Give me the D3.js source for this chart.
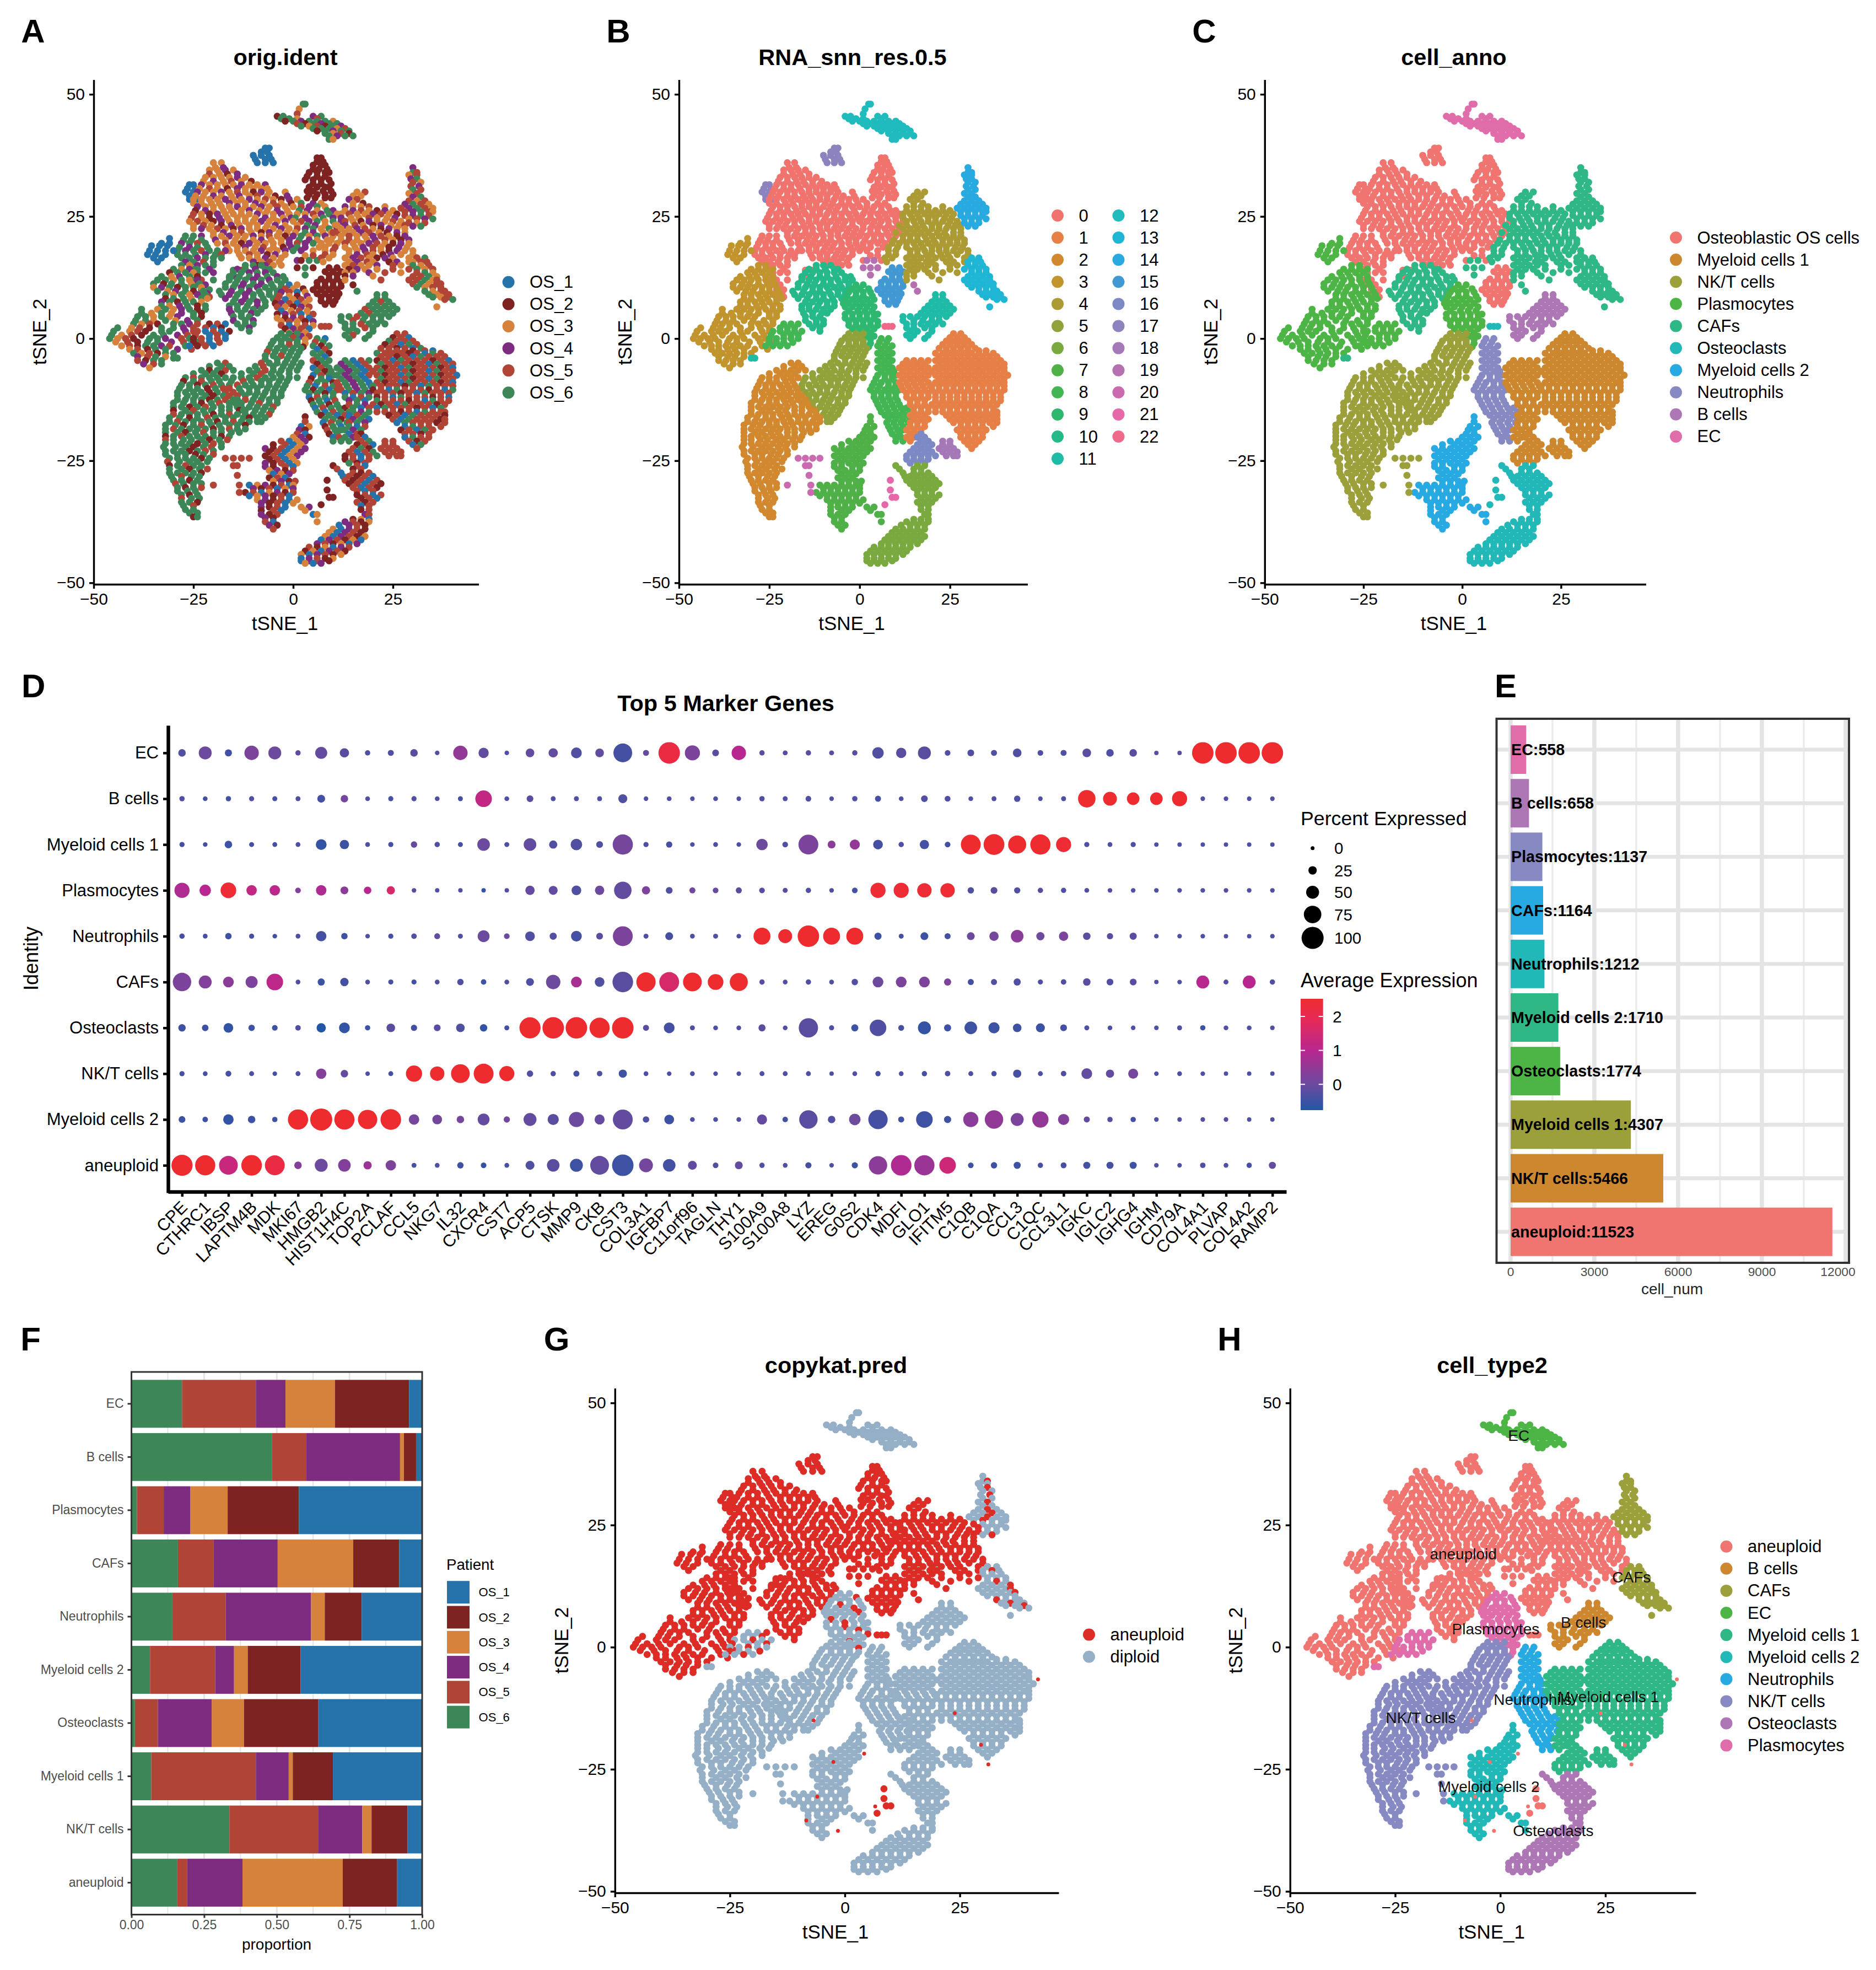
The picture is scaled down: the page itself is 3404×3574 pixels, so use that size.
<!DOCTYPE html>
<html>
<head>
<meta charset="utf-8">
<script src="https://cdn.jsdelivr.net/npm/d3@7"></script>
<style>
body { margin: 0; background: #fff; }
text { font-family: "Liberation Sans", Arial, sans-serif; }
</style>
</head>
<body>
<script>
var ecCells = [[48,2.5,3],[47,1.5],[46,1],[45.5,-4,-2.5,5,7],[45,-3,-1,1,6],[44.5,-2,0,2,4,6,8,10],[44,1,3,5,7,9,11],[43.5,2,4,6,8,10,12],[43,5,7,9,11,13],[42.5,6,8,10,12,14],[42,8,10,12,14],[41.5,9,11,13,15],[40.8,9,10]];
var blobTop = [[39,-7,-6],[38.2,-8,-6.5],[37.5,-10,-8,-6],[36.7,-9.5,-7,-5.5],[36,-9,-7,-5]];
var blobLeft = [[31.5,-26,-25],[30.7,-26.5,-24.5],[30,-27,-25],[29.2,-26,-24.5],[28.5,-26,-24]];
var mainLeft = [[36,-20,-18],[35,-19.5,-17.5],[34.5,-21,-19,-17,-15],[33.7,-21,-18.5,-16.5,-14],[33,-22,-20,-18,-16,-14,-12],[32.2,-22.5,-20,-17.5,-15.5,-13,-10.5],[31.5,-23,-21,-19,-17,-15,-13,-11,-9,-7],[30.7,-23.5,-21,-19,-16.5,-14,-12,-10,-8,-6.5],[30,-24,-22,-20,-18,-16,-14,-12,-10,-8,-6,-2],[29.2,-24.5,-22.5,-20,-18,-15.5,-13.5,-11,-9,-6.5,-4.5,-1.5],
  [28.5,-25,-23,-21,-19,-17,-15,-13,-11,-9,-7,-5,-3,-1],[27.7,-25,-23,-20.5,-18.5,-16,-14,-12,-9.5,-7.5,-5,-3,-.5],[27,-24,-22,-20,-18,-16,-14,-12,-10,-8,-6,-4,-2],[26.2,-24.5,-22,-20,-17.5,-15.5,-13,-11,-8.5,-6.5,-4,-1.5],[25.5,-25,-23,-21,-19,-17,-15,-13,-11,-9,-7,-5,-3,-1],[24.7,-25.5,-23,-21,-18.5,-16.5,-14,-12,-9.5,-7,-5,-2.5,-.5],
  [24,-26,-24,-22,-20,-18,-16,-14,-12,-10,-8,-6,-4,-2],[23.2,-25,-22.5,-20.5,-18,-15.5,-13.5,-11,-9,-6.5,-4.5,-2],[22.5,-25,-23,-21,-19,-17,-15,-13,-11,-9,-7,-5,-3,-1],[21.7,-20,-17.5,-15,-13,-10.5,-8,-6,-3.5,-1.5],[21,-20,-18,-16,-14,-12,-10,-8,-6,-4,-2],[20.2,-19.5,-17,-14.5,-12.5,-10,-8,-5.5,-3,-1],
  [19.5,-19,-17,-15,-13,-11,-9,-7,-5,-3,-1],[18.7,-16.5,-14,-12,-9.5,-7.5,-5,-2.5,-.5],[18,-16,-14,-12,-10,-8,-6,-4,-2],[17.2,-13.5,-11,-9,-6.5,-4.5,-2],[16.5,-13,-11,-9,-7,-5,-3],[15.7,-10,-8,-6,-3.5],[15,-9,-7,-5,-3]];
var mainRight = [[28.5,1],[27.7,2,5,7],[27,0,2,4,6,8],[26.2,1.5,3.5,6,8.5,10],[25.5,1,3,5,7,9,11],[24.7,.5,3,5.5,7.5,10,12],[24,0,2,4,6,8,10,12],[23.2,1,3.5,5.5,8,10.5],[22.5,1,3,5,7,9,11],[21.7,.5,3,5,7.5,9.5,11],[21,0,2,4,6,8,10],[20.2,1.5,4,6,8.5],[19.5,1,3,5,7],[18.7,1,3,6.5],[18,0,2,5],[17,3,5],[16,1,6]];
var lobe = [[37,6,7],[36.2,6,7.5],[35.5,5,7,8],[34.7,5,6.5,8.5],[34,4,6,8,9],[33.2,3.5,6,8],[32.5,3,5,7,9],[31.7,5,7,9.5],[31,4,6,8,9],[30.2,3.5,5,7.5,9.5],[29.5,4,6,8,10],[28.8,3.5,5.5,8,9.5]];
var lowLeft = [[21,-27,-25,-23],[20.2,-27.5,-25.5,-23],[19.5,-28,-26,-24,-22],[18.7,-28.5,-26,-24,-21.5],[18,-29,-27,-25,-23,-21,-19,-17],[17.2,-29,-27,-24.5,-22,-19.5,-18],[16.5,-28,-26,-24,-22,-20,-18],[15.7,-27,-25,-22.5,-20],[15,-26,-24,-22,-20],[14.2,-25,-21],[14,-15,-13],[13.5,-24,-22,-20],[12.8,-24,-15],[12.5,-16,-14],[12,-25,-23,-20],[11,-24.5,-22],[10,-23,-21],[9.2,-23,-21.5],[8.5,-22,-21]];
var gold3Top = [[20.5,-31],[19.5,-33,-31],[19,-35.5,-33.5,-31.5],[18,-36,-34,-32,-30],[17.2,-36.5,-34.5,-32],[16.5,-35,-33],[15.7,-34]];
var gold3Main = [[15,-28,-26],[14.2,-30,-28,-26,-24],[13.5,-31,-29,-27,-25],[12.7,-33,-30.5,-28.5,-26,-24],[12,-34,-32,-30,-28,-26,-24],[11.2,-35,-32.5,-30.5,-28,-25.5,-23.5],[10.5,-35,-33,-31,-29,-27,-25,-23],[9.7,-34,-31.5,-29.5,-27,-25,-22.5],[9,-32,-30,-28,-26,-24,-22],[8.2,-32,-30,-27.5,-25.5,-23,-21.5],[7.5,-33,-31,-29,-27,-25,-23],[6.7,-33,-31,-28.5,-26.5,-24,-22],[6,-38,-34,-32,-30,-28,-26,-24,-22],[5.2,-38,-35.5,-33,-30.5,-28,-25,-23],[4.5,-39,-37,-35,-33,-31,-29,-25,-23],[3.7,-39.5,-37,-35,-32,-29.5,-26.5,-24]];
var gold3Low = [[3,-40,-38,-36,-34,-30,-28,-26,-24],[2.2,-44,-40.5,-38.5,-36,-33,-30,-27.5,-25],[1.5,-45,-41,-39,-37,-33,-31,-27,-25],[.7,-45.5,-43,-40.5,-38,-35,-32.5,-29,-26.5],[0,-46,-44,-42,-40,-36,-34,-32,-28,-26],[-.7,-44.5,-41.5,-39,-36.5,-34,-30.5,-27.5,-24],[-1.5,-43,-41,-39,-37,-35,-33,-31,-27],[-2.2,-41,-39,-36.5,-34.5,-32,-29,-25.5],[-3,-40,-38,-36,-34,-32,-30],[-3.7,-39,-36.5,-34.5,-32],[-4.5,-39,-37,-35,-33],[-5.2,-37.5,-35,-33],[-6,-36]];
var res10 = [[15,-12,-10,-8],[14.2,-14,-12,-9.5,-7,-6],[13.5,-15,-13,-11,-9,-7,-5],[12.7,-16,-13.5,-11,-9,-6.5,-4,-2.5],[12,-16,-14,-12,-10,-8,-6,-4,-2],[11.2,-17,-14.5,-12.5,-10,-8,-5.5,-3],[10.5,-17,-15,-13,-11,-9,-7,-5,-3],[9.7,-18.5,-15.5,-13,-11,-8.5,-6,-4],[9,-18,-16,-14,-12,-10,-8,-6,-4],[8.2,-17,-14.5,-12,-10,-7.5,-5],[7.5,-15,-13,-11,-9,-7],[6.7,-16,-14,-11.5,-9,-7],[6,-16,-14,-12,-10,-8],[5.2,-15.5,-13,-10.5,-9],[4.5,-15,-13,-11],[3.7,-15,-12,-10],[3,-14,-12,-10],[2.2,-13,-11],[1.5,-11]];
var res9 = [[11,-1,1],[10.2,-2,0,2.5],[9.5,-3,-1,1,3],[8.7,-3.5,-1,1,3.5],[8,-4,-2,0,2,4],[7.2,-4.5,-3,-1,1,3],[6.5,-4,-2,0,2,4],[5.7,-3,-.5,1.5,3.5],[5,-4,-2,0,2,4,5],[4.2,-4,-2,0,2,4],[3.5,-3,-1,1,3,5],[2.7,-3,-1,1,3,5],[2,-2,0,2,4],[1.2,-1,1,3],[.5,0,2,4],[-.2,1,3],[-1,1,3],[-1.7,2.5]];
var res8Low = [[3,-21,-19,-17],[2.2,-22,-20,-18],[1.5,-24,-22,-20,-18,-16],[.7,-24.5,-21,-19,-17],[0,-25,-23,-21,-19,-17],[-.8,-25,-23,-21,-18.5],[-1.5,-26,-24,-22,-20]];
var res11 = [[9,21,23],[8.2,21,23],[7.5,20,22,24],[6.7,19,21,23,25],[6,18,20,22,24,26],[5.2,17,19,21,23,25],[4.5,12,14,16,18,20,22,24],[3.7,12,15,17.5,20,22],[3,13,15,17,19,21,23],[2.2,13,15,18,20],[1.5,14,16,20],[.7,13,15,19],[0,14,18]];
var res15 = [[14.5,9,11],[13.7,8,10,12],[13,9,11],[12.2,7,9,11],[11.5,6,8,10,12],[10.7,6,8,10,12],[10,5,7,9,11],[9.2,6,8,10,11.5],[8.5,7,9,11],[7.7,7,9,10.5],[7,8,10]];
var res19 = [[16,2,4],[14.5,1,3,5],[13,3],[11,15],[9.7,16]];
var res4 = [[30,16,18],[29.2,15,17],[28.5,14,16],[27.7,15,17.5],[27,13,15,17,19,23],[26.2,13,15,17,19,21,23,25],[25.5,12,14,16,18,20,22,24,26],[24.7,12,14.5,16.5,19,21,23.5,25.5],[24,13,15,17,19,21,23,25,27],[23.2,11,13,15.5,17.5,20,22,24.5,26.5,28],[22.5,12,14,16,18,20,22,24,26,28],[21.7,10,13,15,17,19,21.5,23.5,26,28],[21,12,14,16,18,20,22,24,26,28],[20.2,9.5,12,14,16,18.5,20.5,23,25,27,29],[19.5,9,11,13,15,17,19,21,23,25,27,29],[18.7,8,10.5,13,15.5,17.5,20,22,24,26.5,28.5],[18,8,10,14,16,18,20,22,24,26,28,30],[17.2,8,10,14,16,18.5,20,22.5,24.5,27,30],[16.5,7,9,13,15,17,19,21,23,25,29,31],[15.7,7.5,14,16,18.5,20,24,26,29],[15,13,15,17,19,21,25,27],[14.2,14,16,18,21,25],[13.5,13,15,19,23,27],[12.8,13,15,20],[12,13,22]];
var res14 = [[35,30],[34,30,31],[33.5,29,31],[32.7,29.5,31],[32,30,32],[31.2,29.5,31.5],[30.5,30,32],[29.7,29,31],[29,30,32],[28.2,29,31,33],[27.5,28,30,32,34],[26.7,27,29,31,33,35],[26,28,30,32,34,35],[25.2,28,30,32,34],[24.5,29,31,33,35],[23.7,29,31,33],[23,30,32]];
var res13 = [[16.5,31,33],[15.7,30,32,33.5],[15,30,32,34],[14.2,29,31,33,35],[13.5,31,33,35],[12.7,30,32,34,36],[12,29,31,33,35,36],[11.2,30,32,34,36,37],[10.5,31,33,35,37],[9.7,33,35,37,38],[9,34,36,38,39],[8.5,35,37,39],[8,38,40],[6.5,36]];
var res5 = [[1,-3,-1,1],[.2,-4,-2,0],[-.5,-5,-3,-1,1],[-1.2,-5.5,-3,-1,1],[-2,-6,-4,-2,0,2],[-2.7,-6.5,-4.5,-2.5,-.5,1.5],[-3.5,-7,-5,-3,-1,1],[-4.2,-7,-4,-1.5,.5],[-5,-8,-6,-4,-2,0,2],[-5.7,-9.5,-7.5,-5,-2.5,-.5,1.5],[-6.5,-11,-9,-7,-5,-3,-1,1],[-7.2,-13,-10,-8,-5.5,-3.5,-1],[-8,-15,-13,-11,-9,-7,-5,-3,-1,1],[-8.7,-15.5,-12.5,-10.5,-8,-6,-3.5,-1.5],[-9.5,-16,-14,-12,-10,-8,-6,-4,-2],[-10.2,-16,-13.5,-11,-9,-6.5,-4.5,-2.5],[-11,-15,-13,-11,-9,-7,-5,-3],[-11.7,-14,-12,-9.5,-7.5,-5,-3],[-12.5,-14,-12,-10,-8,-6,-4],[-13.2,-13,-10.5,-8.5,-6,-4],[-14,-13,-11,-9,-7,-5],[-14.7,-12,-9.5,-7.5,-5.5],[-15.5,-10,-8,-6],[-16.2,-9,-7],[-17,-9,-8]];
var res2 = [[-5,-19,-17],[-5.7,-21,-18,-16],[-6.5,-23,-21,-19,-17,-15],[-7.2,-25,-22,-20,-18],[-8,-27,-25,-23,-21,-19,-17],[-8.7,-27.5,-25,-23,-20.5,-18.5],[-9.5,-28,-26,-24,-22,-20,-18],[-10.2,-28.5,-26,-24,-21.5,-19.5,-17.5],[-11,-29,-27,-25,-23,-21,-19,-17],[-11.7,-29,-26.5,-24.5,-22,-20,-17.5,-16],[-12.5,-29,-27,-25,-23,-21,-19,-17,-15],[-13.2,-30,-27.5,-25,-23,-20.5,-18.5,-16,-14.5],[-14,-30,-28,-26,-24,-22,-20,-18,-16,-14],[-14.7,-30,-27,-25,-22.5,-20.5,-18,-16,-13.5,-12.5],[-15.5,-30,-28,-26,-24,-22,-20,-18,-16,-14,-12],[-16.2,-31,-28.5,-26,-24,-21.5,-19.5,-17,-15,-12.5,-11],[-17,-31,-29,-27,-25,-23,-21,-19,-17,-15,-13,-11],[-17.7,-32,-29.5,-27.5,-25,-23,-20.5,-18.5,-16,-14,-12],[-18.5,-32,-30,-28,-26,-24,-22,-20,-18,-16,-14,-12],[-19.2,-32,-29,-27,-24.5,-22.5,-20,-18,-15.5,-13.5],[-20,-32,-30,-28,-26,-24,-22,-20,-18,-16],[-20.7,-32,-30,-27.5,-25.5,-23,-21,-18.5,-16.5],[-21.5,-32,-30,-28,-26,-24,-22,-20,-18],[-22.2,-32.5,-29.5,-27,-25,-22.5,-20.5,-18],[-23,-32,-30,-28,-26,-24,-22,-20],[-23.7,-32,-29,-27,-24.5,-22.5,-20],[-24.5,-31,-29,-27,-25,-23,-21],[-25.2,-31.5,-28.5,-26,-24,-21.5],[-26,-31,-29,-27,-25,-23],[-26.7,-31,-28,-26,-23.5,-21.5],[-27.5,-31,-29,-27,-25,-23],[-28.2,-30.5,-28,-25.5,-23.5],[-29,-30,-28,-26,-24],[-29.7,-29.5,-27.5,-25,-23],[-30.5,-29,-27,-25,-23],[-31.2,-29,-26.5,-24.5],[-32,-28,-26,-24],[-32.7,-28,-25.5,-23.5],[-33.5,-28,-26,-24],[-34.2,-27.5,-25],[-35,-27,-25],[-35.7,-26,-24],[-36.5,-25,-24]];
var res8Vert = [[0,6,8],[-.7,5.5,7.5],[-1.5,5,7,9],[-2.2,6,8],[-3,5,7,9],[-3.7,6,8],[-4.5,5,7,9],[-5.2,6,8],[-6,5,7,9],[-6.7,6,8,9.5],[-7.5,5,7,9,10],[-8.2,4.5,7,9],[-9,4,6,8,10],[-9.7,3.5,5.5,8,10],[-10.5,3,5,7,9,11],[-11.2,4,6,8,10],[-12,4,6,8,10],[-12.7,4.5,6.5,8.5,10.5],[-13.5,5,7,9,11],[-14.2,5.5,7.5,9.5,11.5,13],[-15,6,8,10,12,14],[-15.7,7,9,11,13],[-16.5,8,10,12,14],[-17.2,7.5,9.5,11.5,13.5],[-18,8,10,12],[-18.7,8.5,10.5,12],[-19.5,9,11],[-20.2,10,11.5],[-21,10,12]];
var res1Left = [[-4.5,13,15,17,19],[-5.2,12,14,16,18],[-6,11,13,15,17,19],[-6.7,12,14,16,18,20],[-7.5,11,13,15,17,19],[-8.2,12,14,16,18],[-9,11,13,15,17,19],[-9.7,11.5,13.5,15.5,17.5,19.5],[-10.5,12,14,16,18],[-11.2,13,15,17,19],[-12,13,15,17,19],[-12.7,14,16,18],[-13.5,14,16,18],[-14.2,15,17,19],[-15,15,17,19],[-15.7,14,16,18],[-16.5,15,17,19],[-17.2,14,16,18],[-18,14,16,18],[-18.7,13,15,17],[-19.5,14,16],[-20.2,13,15],[-21,14]];
var res1Right = [[1,26,28],[.2,25,27,29],[-.5,24,26,28,30],[-1.2,23,25,27,29,31],[-2,22,24,26,28,30,32],[-2.5,24,26,28,30,33,35],[-3,21,23,25,27,29,31,33,35,37],[-3.7,22,24,26,28,30,32,34,36,38],[-4.5,21,23,25,27,29,31,33,35,37,39],[-5.2,22,24,26,28,30,32,34,36,38,40],[-6,21,23,25,27,29,31,33,35,37,39,40],[-6.7,22,24,26,28,30,32,34,36,38,40],[-7.5,21,23,25,27,29,31,33,35,37,39,41],[-8.2,22,24,26,28,30,32,34,36,38,40],[-9,21,23,25,27,29,31,33,35,37,39,40],[-9.7,20,22,24,26,28,30,32,34,36,38,40],[-10.5,20,22,24,26,28,30,32,34,36,38,40],[-11.2,21,23,25,27,29,31,33,35,37,39],[-12,21,23,25,27,29,31,33,35,37,39],[-12.7,21,23,25,27,29,31,33,35,37,39],[-13.5,20,22,24,26,28,30,32,34,36,38],[-14.2,21,23,25,27,29,31,33,35,37],[-15,21,23,25,27,29,31,33,35,37,38],[-15.7,24,26,28,30,32,34,36,38],[-16.5,25,27,29,31,33,35,37,38],[-17.2,26,28,30,32,34,36,38],[-18,28,30,32,34,37],[-18.7,27,29,31,33,35],[-19.5,28,30,32,34],[-20.2,28,30,32,34],[-21,29,31,33],[-21.7,30,32],[-22.5,31]];
var res16 = [[-19.5,17],[-20.2,16,18],[-21,17,19],[-21.7,16,18,20],[-22.5,15,17,19],[-23.2,14,16,18,20],[-24,13,15,17,19,21],[-24.7,13,15,17,19],[-25.5,14,16,18]];
var res18 = [[-21,23,25],[-21.7,23,25],[-22.5,22,24,26],[-23.2,23,25,27],[-24,24,26,27]];
var res7 = [[-16,3],[-17,3],[-18,2,4],[-18.7,1.5,3],[-19.5,1,3],[-20.2,0,2,4],[-21,-3,-1,1,3],[-21.7,-5,-2,0,2],[-22.5,-7,-5,-3,-1,1,3],[-23.2,-6,-4,-2,0,2],[-24,-7,-5,-3,-1,1],[-24.7,-6,-4,-2,0],[-25.5,-7,-5,-3,-1,1],[-26.2,-7,-5,-2,0],[-27,-6,-4,-2,0],[-27.7,-5,-3,-1],[-28.5,-6,-4,-2],[-29.2,-5,-3,-1,.5],[-30,-11,-9,-7,-5,-3,-1,0],[-30.7,-10,-8,-6,-4,-2,0],[-31.5,-12,-10,-8,-6,-4,-2,0],[-32.2,-11,-9,-7,-5,-3,-1],[-33,-9,-7,-5,-3,-1,1],[-33.7,-8,-6,-4,-2,0],[-34.5,-8,-6,-4,-2,2,4],[-35.2,-8,-5,-3,3],[-36,-8,-6,-4,5,6],[-36.7,-7,-5],[-37.5,-7,-5,6],[-38.2,-6,-4],[-39,-5]];
var res20 = [[-24.5,-17,-15,-13,-11],[-26,-15,-14],[-28,-14],[-30,-20,-13.5],[-31.5,-13.5]];
var res21 = [[-29,8.5],[-31,8.5],[-32.5,9,10],[-34,7]];
var res6Up = [[-26,10,16,18],[-26.7,11,15,17],[-27.5,12,15,17,19],[-28.2,12.5,14,16,18,20],[-29,13,15,17,19,21],[-29.7,14,16,18,20,22],[-30.5,15,17,19,21],[-31.2,16,18,20],[-32,16,18,20,22],[-32.7,17,19,21],[-33.5,16,18,20],[-34.2,17,19],[-35,17,19]];
var res6Low = [[-36,18,19],[-37,15,17,19],[-37.5,13,15,17,19],[-38.2,11.5,14,16,18],[-39,10,12,14,16,18],[-39.7,9,11,13,15,17],[-40.5,8,10,12,14,16,18],[-41.2,7,9,11,13,15,17],[-42,6,8,10,12,14,16],[-42.7,4,6,8,10,12,14],[-43.5,3,5,7,9,11,13],[-44.2,2,4,6,8,10,12],[-45,2,4,6,8,10],[-45.5,2,4,6,9],[-46,3,5,7]];
var res22 = [[2.5,7,8,9]];
var res11b = [[-4,-30,-29]];

var regionCells = [ecCells,blobTop,blobLeft,mainLeft,mainRight,lobe,lowLeft,gold3Top,gold3Main,gold3Low,res10,res9,res8Low,res11,res15,res19,res4,res14,res13,res5,res2,res8Vert,res1Left,res1Right,res16,res18,res7,res20,res21,res6Up,res6Low,res22,res11b];
var regionRes = [12,17,17,0,0,0,0,3,3,3,10,9,8,11,15,19,4,14,13,5,2,8,1,1,16,18,7,20,21,6,6,22,11];
var regionAnno = ["EC","Osteoblastic OS cells","Osteoblastic OS cells","Osteoblastic OS cells","Osteoblastic OS cells","Osteoblastic OS cells","Osteoblastic OS cells","Plasmocytes","Plasmocytes","Plasmocytes","CAFs","Plasmocytes","Plasmocytes","B cells","Osteoblastic OS cells","CAFs","CAFs","CAFs","CAFs","NK/T cells","NK/T cells","Neutrophils","Myeloid cells 1","Myeloid cells 1","Myeloid cells 1","Myeloid cells 1","Myeloid cells 2","NK/T cells","Osteoclasts","Osteoclasts","Osteoclasts","Osteoclasts","CAFs"];
var regionType = ["EC","aneuploid","aneuploid","aneuploid","aneuploid","aneuploid","aneuploid","aneuploid","aneuploid","aneuploid","aneuploid","Plasmocytes","Plasmocytes","B cells","aneuploid","aneuploid","aneuploid","CAFs","CAFs","NK/T cells","NK/T cells","Neutrophils","Myeloid cells 1","Myeloid cells 1","Myeloid cells 1","Myeloid cells 1","Myeloid cells 2","NK/T cells","aneuploid","Osteoclasts","Osteoclasts","aneuploid","Plasmocytes"];
var regionCnv = ["d","a","a","a","a","a","a","a","a","a","a","ddddad","dda","d","a","a","a","ddad","dddad","d","d","d","d","d","d","d","d","d","a","d","d","a","d"];
var regionPatient = ["66352646","1","1","3334334353243","36433546364","2","664666465","1","63634626","63526645","6664646","1353245","25151","666665","2","26","3533453243","46535","5635","6666656","6566662","615662","61564","5525165","25156","5","25134","5","2","2515","45231","5","6"];
// lone red cells in the copykat panel: [x, y]
var strayX = [42,23.9,29.6,31.2,-6.8,4.2,-2.5,-6,-8.4,-1.5,6.6];
var strayY = [-6.6,-13.5,-20,-24,-15,-21.8,-23.5,-30.6,-35.5,-37.6,-32.6];

var osNames = ["OS_1","OS_2","OS_3","OS_4","OS_5","OS_6"];
var osColors = ["#2673AB","#7E2222","#D6823D","#7D2C80","#B04436","#3D8658"];
var resColors = ["#F0736E","#E68047","#D2882E","#C1942E","#AC9B34","#92A23A","#79A93F","#4FB047","#43B653","#2EB86F","#25B989","#1FBBA6","#20BBBD","#1FB6D6","#28AAE1","#4298D2","#7C89C4","#8D83BF","#A578B7","#B570B0","#C96BAE","#E668A9","#EF6A8A"];
var hue10 = ["#F07570","#CC872F","#9CA03A","#4DB545","#2FB885","#22B8B8","#27A9E1","#8789C3","#AD76B4","#E16CAA"];
var annoNames = ["Osteoblastic OS cells","Myeloid cells 1","NK/T cells","Plasmocytes","CAFs","Osteoclasts","Myeloid cells 2","Neutrophils","B cells","EC"];
var typeNames = ["aneuploid","B cells","CAFs","EC","Myeloid cells 1","Myeloid cells 2","Neutrophils","NK/T cells","Osteoclasts","Plasmocytes"];
var typeLabelNames = ["aneuploid","Myeloid cells 1","Neutrophils","NK/T cells","Myeloid cells 2","Osteoclasts","Plasmocytes","B cells","CAFs","EC"];
var typeLabelX = [-8.8,25.7,7.7,-18.9,-2.7,12.6,-1.1,19.8,31.2,4.4];
var typeLabelY = [19.1,-10.2,-10.7,-14.5,-28.6,-37.6,3.7,5.1,14.3,43.3];

// dot plot
var genes = ["CPE","CTHRC1","IBSP","LAPTM4B","MDK","MKI67","HMGB2","HIST1H4C","TOP2A","PCLAF","CCL5","NKG7","IL32","CXCR4","CST7","ACP5","CTSK","MMP9","CKB","CST3","COL3A1","IGFBP7","C11orf96","TAGLN","THY1","S100A9","S100A8","LYZ","EREG","G0S2","CDK4","MDFI","GLO1","IFITM5","C1QB","C1QA","CCL3","C1QC","CCL3L1","IGKC","IGLC2","IGHG4","IGHM","CD79A","COL4A1","PLVAP","COL4A2","RAMP2"];
var identities = ["EC","B cells","Myeloid cells 1","Plasmocytes","Neutrophils","CAFs","Osteoclasts","NK/T cells","Myeloid cells 2","aneuploid"];
var pctEC = [20,50,18,58,50,8,45,30,8,12,20,4,58,35,4,26,30,38,26,82,12,97,62,16,58,8,6,8,6,8,42,35,50,10,16,12,26,10,12,26,20,20,3,3,97,97,97,97];
var pctB = [8,5,8,7,6,6,22,20,5,7,7,5,6,70,5,16,6,6,6,28,4,5,4,5,4,8,6,10,4,8,12,5,16,11,5,6,14,4,6,75,55,48,48,62,4,4,4,4];
var pctM1 = [7,4,20,6,5,5,38,30,5,7,14,8,6,48,6,48,24,42,16,90,7,13,4,5,4,42,10,88,22,34,32,8,30,10,88,93,78,90,62,7,5,7,3,3,3,3,3,3];
var pctPl = [62,42,65,36,36,10,36,22,20,24,4,3,3,3,3,30,28,32,30,75,24,16,12,10,12,10,6,8,4,10,62,62,58,58,14,16,13,8,8,5,4,4,4,4,4,4,4,4];
var pctNe = [8,5,14,7,4,5,36,14,4,7,9,11,6,44,10,32,18,38,16,88,6,22,5,6,4,72,55,97,72,72,18,6,22,12,22,30,48,24,30,20,13,18,4,4,4,3,3,4];
var pctCA = [80,50,38,45,70,5,18,25,5,7,7,5,14,9,5,22,58,38,32,92,85,88,82,65,78,8,5,8,5,14,38,38,38,18,12,12,18,7,9,20,16,16,3,4,50,6,50,8];
var pctOc = [20,15,32,14,10,9,30,38,8,26,13,16,26,20,6,95,97,97,90,97,12,38,6,5,5,18,5,85,7,18,70,11,50,18,48,40,26,28,16,6,5,4,4,6,8,5,5,4];
var pctNK = [7,5,11,6,4,6,36,20,4,6,68,58,82,88,62,14,8,12,9,24,5,4,5,4,4,6,6,6,3,5,8,5,8,9,6,8,24,6,9,38,24,34,4,5,4,3,3,3];
var pctM2 = [16,9,36,20,8,90,100,90,85,92,36,32,20,44,13,50,40,62,34,88,14,32,5,5,5,34,9,80,20,42,85,12,70,18,62,80,50,68,40,12,8,8,4,4,4,4,3,3];
var pctAn = [95,90,82,92,88,20,50,48,24,36,6,5,14,10,5,28,48,50,82,97,55,48,28,10,22,8,5,13,4,13,80,92,90,70,10,14,18,8,11,18,18,18,4,4,9,5,8,18];
var avgEC = [-.3,0,-.4,.2,0,-.1,-.1,-.2,-.3,-.3,-.2,-.3,.5,-.1,-.3,-.1,-.1,-.3,-.1,-.4,-.1,2.2,.2,-.2,1,-.2,-.2,-.2,-.2,-.2,-.3,-.2,-.2,-.3,-.3,-.3,-.3,-.3,-.3,-.2,-.3,-.2,-.2,-.2,2.5,2.5,2.5,2.5];
var avgB = [-.3,-.4,-.4,-.3,-.4,-.3,-.4,.1,-.3,-.4,-.3,-.3,-.4,1.2,-.3,-.2,-.3,-.3,-.3,-.3,-.3,-.3,-.3,-.3,-.3,-.3,-.3,-.3,-.3,-.3,-.4,-.3,-.3,-.3,-.3,-.3,-.3,-.3,-.3,2.5,2.5,2.5,2.5,2.5,-.3,-.3,-.3,-.3];
var avgM1 = [-.4,-.4,-.5,-.4,-.4,-.3,-.6,-.5,-.3,-.4,-.1,-.3,-.4,0,-.3,-.1,-.3,-.3,-.3,.1,-.3,-.4,-.3,-.3,-.3,0,-.3,.2,.4,.5,-.4,-.3,-.4,-.4,2.5,2.5,2.5,2.5,2.4,-.3,-.3,-.3,-.3,-.3,-.3,-.3,-.3,-.3];
var avgPl = [.9,1,2.4,1.2,1.1,.3,.9,.4,1,1.6,-.3,-.3,-.3,-.6,-.3,-.1,-.1,-.3,0,-.1,.2,-.3,.1,-.1,-.2,-.2,-.3,-.3,-.3,-.4,2.4,2.4,2.4,2.4,-.3,-.2,-.3,-.3,-.3,-.3,-.3,-.3,-.3,-.3,-.3,-.3,-.3,-.3];
var avgNe = [-.4,-.4,-.5,-.4,-.5,-.3,-.4,-.5,-.3,-.4,-.3,-.1,-.3,0,0,-.3,-.3,-.4,-.2,.2,-.3,-.4,-.3,-.3,-.3,2.5,2.5,2.5,2.5,2.5,-.5,-.4,-.5,-.4,0,.1,.4,0,.2,-.2,-.2,-.2,-.3,-.3,-.3,-.3,-.3,-.3];
var avgCA = [.2,.3,.4,.2,1.1,-.3,-.5,-.4,-.3,-.4,-.4,-.3,-.3,-.5,-.3,-.3,0,.8,-.3,-.2,2.5,1.6,2.5,2.5,2.5,-.2,-.3,-.3,-.3,-.3,0,.2,.2,.2,-.4,-.3,-.3,-.3,-.3,-.2,-.3,-.2,-.3,-.3,1,-.3,1,-.3];
var avgOc = [-.5,-.5,-.6,-.5,-.5,-.3,-.8,-.6,-.5,-.2,-.4,-.2,-.3,-.6,-.4,2.5,2.5,2.5,2.5,2.5,-.2,-.4,-.3,-.3,-.3,-.2,-.3,-.2,-.3,-.5,-.3,-.4,-.6,-.5,-.5,-.5,-.5,-.5,-.4,-.3,-.3,-.3,-.3,-.3,-.5,-.3,-.3,-.3];
var avgNK = [-.4,-.4,-.4,-.3,-.4,-.3,.3,-.1,-.3,-.4,2.5,2.5,2.5,2.5,2.5,-.3,-.3,-.4,-.3,-.5,-.3,-.3,-.3,-.3,-.3,-.3,-.3,-.3,-.3,-.3,-.4,-.3,-.4,-.3,-.3,-.4,-.4,-.3,-.3,-.1,-.1,.1,-.3,-.3,-.3,-.3,-.3,-.3];
var avgM2 = [-.5,-.5,-.6,-.5,-.5,2.5,2.5,2.5,2.5,2.5,.1,.1,.1,-.1,.1,-.1,-.2,0,-.1,-.1,-.3,-.5,-.3,-.3,-.3,-.1,-.4,-.2,-.3,0,-.4,-.5,-.5,-.5,.4,.5,.2,.5,.3,-.1,-.3,-.4,-.3,-.3,-.3,-.3,-.3,-.3];
var avgAn = [2.5,2.5,1.3,2.5,2.2,.3,0,.3,.6,.2,-.4,-.3,-.5,-.6,-.4,-.3,-.2,-.5,-.1,-.5,.1,-.4,-.1,-.3,-.1,-.3,-.3,-.4,-.3,-.5,.4,.9,.6,1.4,-.5,-.5,-.5,-.4,-.4,-.4,-.4,-.5,-.3,-.3,-.3,-.3,-.4,-.1];
var pctRows = [pctEC,pctB,pctM1,pctPl,pctNe,pctCA,pctOc,pctNK,pctM2,pctAn];
var avgRows = [avgEC,avgB,avgM1,avgPl,avgNe,avgCA,avgOc,avgNK,avgM2,avgAn];
var pctLegend = [0,25,50,75,100];
var avgLegend = [2,1,0];

// bar chart E
var barNames = ["EC","B cells","Plasmocytes","CAFs","Neutrophils","Myeloid cells 2","Osteoclasts","Myeloid cells 1","NK/T cells","aneuploid"];
var barValues = [558,658,1137,1164,1212,1710,1774,4307,5466,11523];
var barColors = ["#E16CAA","#AD76B4","#8789C3","#27A9E1","#22B8B8","#2FB885","#4DB545","#9CA03A","#CC872F","#F07570"];

// stacked bars F, left to right is OS_6 .. OS_1
var stackNames = ["EC","B cells","Plasmocytes","CAFs","Neutrophils","Myeloid cells 2","Osteoclasts","Myeloid cells 1","NK/T cells","aneuploid"];
var os6 = [.174,.484,.019,.160,.141,.064,.012,.068,.337,.158];
var os5 = [.254,.118,.092,.122,.183,.224,.079,.360,.305,.034];
var os4 = [.102,.322,.092,.221,.294,.065,.185,.113,.152,.190];
var os3 = [.170,.013,.128,.260,.047,.047,.111,.014,.032,.345];
var os2 = [.255,.042,.245,.158,.127,.182,.256,.138,.124,.187];
var os1 = [.045,.021,.424,.079,.208,.418,.357,.307,.050,.086];

var svg = d3.select("body").append("svg").attr("width",3404).attr("height",3574).style("display","block");

var cells = [];
regionCells.forEach(function(rows,i){
  var n = 0;
  rows.forEach(function(row){
    row.slice(1).forEach(function(x){
      cells.push({x:x,y:row[0],res:regionRes[i],anno:regionAnno[i],type:regionType[i],
        cnv:regionCnv[i][n%regionCnv[i].length],patient:+regionPatient[i][n%regionPatient[i].length]});
      n++;
    });
  });
});

function label(t,x,y,size,opts){
  opts = opts||{};
  return svg.append("text").text(t).attr("x",x).attr("y",y).attr("font-size",size)
    .attr("dominant-baseline","central")
    .attr("text-anchor",opts.anchor||"middle")
    .attr("font-weight",opts.bold?"bold":"normal")
    .attr("fill",opts.fill||"#000")
    .attr("transform",opts.rot?"rotate("+opts.rot+" "+x+" "+y+")":null);
}

var letters = ["A","B","C","D","E","F","G","H"];
var letterPosX = [60,1122,2185,60.6,2732,55.5,1010,2231];
var letterPosY = [56,56,56,1244,1244,2429.5,2429.5,2429.5];
letters.forEach(function(l,i){ label(l,letterPosX[i],letterPosY[i],60,{bold:true}); });

function tsnePanel(p){
  var x = d3.scaleLinear().domain([-50,46.5]).range([p.left,p.right]);
  var y = d3.scaleLinear().domain([-50.3,53]).range([p.bottom,p.top]);
  var g = svg.append("g");
  g.selectAll("circle").data(cells).enter().append("circle")
    .attr("cx",function(d){return x(d.x);})
    .attr("cy",function(d){return y(d.y);})
    .attr("r",6.4)
    .attr("fill",p.color);
  if(p.stray){
    g.selectAll("circle.stray").data(strayX).enter().append("circle").attr("class","stray")
      .attr("cx",function(d){return x(d);})
      .attr("cy",function(d,i){return y(strayY[i]);})
      .attr("r",3.5).attr("fill",p.stray);
  }
  var ax = svg.append("g").attr("transform","translate(0,"+p.bottom+")")
    .call(d3.axisBottom(x).tickValues([-50,-25,0,25]).tickSize(8).tickPadding(8).tickSizeOuter(0));
  var ay = svg.append("g").attr("transform","translate("+p.left+",0)")
    .call(d3.axisLeft(y).tickValues([-50,-25,0,25,50]).tickSize(8).tickPadding(8).tickSizeOuter(0));
  [ax,ay].forEach(function(a){
    a.selectAll("path,line").attr("stroke","#000").attr("stroke-width",3.4);
    a.selectAll("text").attr("font-size",30).attr("fill","#000").attr("font-family","Liberation Sans");
  });
  label(p.title,p.titleX,p.titleY,41.5,{bold:true});
  label("tSNE_1",p.xLabX,p.xLabY,35);
  label("tSNE_2",p.yLabX,p.yLabY,35,{rot:-90});
  p.legend.forEach(function(name,i){
    var col = p.legCols ? Math.floor(i/p.legCols) : 0;
    var row = p.legCols ? i%p.legCols : i;
    var lx = p.legX+col*(p.legColStep||0), ly = p.legY+row*40.1;
    svg.append("circle").attr("cx",lx).attr("cy",ly).attr("r",11).attr("fill",p.legColors[i]);
    label(name,lx+38.5,ly,31,{anchor:"start"});
  });
  return {x:x,y:y};
}

function byName(names,colors,key){
  var s = d3.scaleOrdinal().domain(names).range(colors);
  return function(d){ return s(d[key]); };
}

var rowTop = {top:144.5,bottom:1060,titleY:103,xLabY:1130,yLabY:602};
var rowBot = {top:2518.6,bottom:3434,titleY:2476.7,xLabY:3504,yLabY:2976};

tsnePanel(Object.assign({},rowTop,{left:170,right:868.6,title:"orig.ident",titleX:518,xLabX:517,yLabX:71,
  color:function(d){return osColors[d.patient-1];},legend:osNames,legColors:osColors,legX:922.6,legY:511.7}));
tsnePanel(Object.assign({},rowTop,{left:1232,right:1864.6,title:"RNA_snn_res.0.5",titleX:1547,xLabX:1545.5,yLabX:1133,
  color:function(d){return resColors[d.res];},legend:d3.range(23).map(String),legColors:resColors,legX:1919,legY:391,legCols:12,legColStep:110.5}));
tsnePanel(Object.assign({},rowTop,{left:2294.8,right:2986.5,title:"cell_anno",titleX:2638,xLabX:2638,yLabX:2196,
  color:byName(annoNames,hue10,"anno"),legend:annoNames,legColors:hue10,legX:3041,legY:431}));
tsnePanel(Object.assign({},rowBot,{left:1115.8,right:1921,title:"copykat.pred",titleX:1517,xLabX:1516,yLabX:1018,
  color:function(d){return d.cnv=="a"?"#DD2C26":"#95B0C6";},stray:"#DD2C26",legend:["aneuploid","diploid"],legColors:["#DD2C26","#95B0C6"],legX:1976,legY:2965.6}));
var hPanel = tsnePanel(Object.assign({},rowBot,{left:2340.8,right:3077,title:"cell_type2",titleX:2707.5,xLabX:2706.7,yLabX:2241,
  color:byName(typeNames,hue10,"type"),stray:"#F07570",legend:typeNames,legColors:hue10,legX:3132.5,legY:2805.7}));
typeLabelNames.forEach(function(t,i){
  label(t,hPanel.x(typeLabelX[i]),hPanel.y(typeLabelY[i]),28,{fill:"#111"});
});

// D: dot plot
var dx = d3.scalePoint().domain(genes).range([305,2334]).padding(.6);
var dy = d3.scalePoint().domain(identities.slice().reverse()).range([2164,1316]).padding(.6);
var rScale = d3.scaleLinear().domain([0,100]).range([3.5,20]);
var heat = d3.scaleLinear().domain([-.76,0,1,2,2.52]).range(["#2456A6","#6C4A9E","#B8278F","#E92A52","#EE2C2E"]).clamp(true);
var dots = [];
identities.forEach(function(id,r){
  genes.forEach(function(g,c){ dots.push({id:id,gene:g,pct:pctRows[r][c],avg:avgRows[r][c]}); });
});
svg.append("g").selectAll("circle").data(dots).enter().append("circle")
  .attr("cx",function(d){return dx(d.gene);})
  .attr("cy",function(d){return dy(d.id);})
  .attr("r",function(d){return rScale(d.pct);})
  .attr("fill",function(d){return heat(d.avg);});
var dax = svg.append("g").attr("transform","translate(0,2162)").call(d3.axisBottom(dx).tickSize(9).tickPadding(6).tickSizeOuter(0));
var day = svg.append("g").attr("transform","translate(305,0)").call(d3.axisLeft(dy).tickSize(9).tickPadding(8).tickSizeOuter(0));
[dax,day].forEach(function(a){
  a.select("path").attr("stroke","#000").attr("stroke-width",6.5);
  a.selectAll("line").attr("stroke","#000").attr("stroke-width",4.5);
  a.selectAll("text").attr("font-size",31).attr("fill","#000").attr("font-family","Liberation Sans");
});
dax.selectAll("text").attr("text-anchor","end").attr("dy",0).attr("y",0).attr("x",0)
  .attr("transform","translate(11,30) rotate(-45)");
label("Top 5 Marker Genes",1317,1275,41.5,{bold:true});
label("Identity",56,1739,36,{rot:-90});

label("Percent Expressed",2360,1484.6,35.7,{anchor:"start"});
var pctLegY = [1538.8,1579,1618.8,1659,1701.6];
pctLegend.forEach(function(p,i){
  svg.append("circle").attr("cx",2381.7).attr("cy",pctLegY[i]).attr("r",rScale(p)).attr("fill","#000");
  label(String(p),2421,pctLegY[i],29.5,{anchor:"start"});
});
label("Average Expression",2360,1778,36,{anchor:"start"});
var barScale = d3.scaleLinear().domain([-.76,2.52]).range([2014,1812]);
var grad = svg.append("defs").append("linearGradient").attr("id","heatGrad").attr("x1",0).attr("x2",0).attr("y1",1).attr("y2",0);
heat.domain().forEach(function(v){
  grad.append("stop").attr("offset",(v+.76)/3.28).attr("stop-color",heat(v));
});
svg.append("rect").attr("x",2360).attr("y",1812).attr("width",40.7).attr("height",202).attr("fill","url(#heatGrad)");
avgLegend.forEach(function(v){
  var yy = barScale(v);
  svg.append("line").attr("x1",2360).attr("x2",2368).attr("y1",yy).attr("y2",yy).attr("stroke","#fff").attr("stroke-width",2);
  svg.append("line").attr("x1",2392.7).attr("x2",2400.7).attr("y1",yy).attr("y2",yy).attr("stroke","#fff").attr("stroke-width",2);
  label(String(v),2418,yy,30,{anchor:"start"});
});

// E: bars
var ex = d3.scaleLinear().domain([0,12000]).range([2741,3349]);
var ey = d3.scaleBand().domain(barNames).range([1306.8,2288]).padding(.095);
var eLeft = 2715.5, eRight = 3355, eTop = 1304, eBottom = 2291;
var eGrid = svg.append("g");
d3.range(1500,12000,3000).forEach(function(v){
  eGrid.append("line").attr("x1",ex(v)).attr("x2",ex(v)).attr("y1",eTop).attr("y2",eBottom).attr("stroke","#EBEBEB").attr("stroke-width",3.5);
});
d3.range(0,12001,3000).forEach(function(v){
  eGrid.append("line").attr("x1",ex(v)).attr("x2",ex(v)).attr("y1",eTop).attr("y2",eBottom).attr("stroke","#E4E4E4").attr("stroke-width",7.5);
});
barNames.forEach(function(n){
  var yy = ey(n)+ey.bandwidth()/2;
  eGrid.append("line").attr("x1",eLeft).attr("x2",eRight).attr("y1",yy).attr("y2",yy).attr("stroke","#E4E4E4").attr("stroke-width",7);
});
svg.append("g").selectAll("rect").data(barNames).enter().append("rect")
  .attr("x",ex(0)).attr("y",function(d){return ey(d);})
  .attr("width",function(d,i){return ex(barValues[i])-ex(0);})
  .attr("height",ey.bandwidth())
  .attr("fill",function(d,i){return barColors[i];});
barNames.forEach(function(n,i){
  label(n+":"+barValues[i],ex(0)+1,ey(n)+ey.bandwidth()/2,28.7,{anchor:"start",bold:true});
});
svg.append("rect").attr("x",eLeft).attr("y",eTop).attr("width",eRight-eLeft).attr("height",eBottom-eTop)
  .attr("fill","none").attr("stroke","#333").attr("stroke-width",4);
d3.range(0,12001,3000).forEach(function(v){
  label(String(v),v==12000?3335:ex(v),2307,22.8,{fill:"#4D4D4D"});
});
label("cell_num",3034,2338,28,{fill:"#222"});

// F: stacked bars
var fx = d3.scaleLinear().domain([0,1]).range([238.5,766]);
var fy = d3.scaleBand().domain(stackNames).range([2493.7,3468.7]).paddingInner(.1).paddingOuter(.1);
var stackRows = stackNames.map(function(n,i){
  return {name:n,os6:os6[i],os5:os5[i],os4:os4[i],os3:os3[i],os2:os2[i],os1:os1[i]};
});
var stack = d3.stack().keys(["os6","os5","os4","os3","os2","os1"]);
var stackColor = {os6:osColors[5],os5:osColors[4],os4:osColors[3],os3:osColors[2],os2:osColors[1],os1:osColors[0]};
d3.range(.125,1,.125).forEach(function(v){
  svg.append("line").attr("x1",fx(v)).attr("x2",fx(v)).attr("y1",2489).attr("y2",3473.5)
    .attr("stroke","#E4E4E4").attr("stroke-width",Math.round(v*8)%2==0?3:2);
});
stack(stackRows).forEach(function(layer){
  svg.append("g").selectAll("rect").data(layer).enter().append("rect")
    .attr("x",function(d){return fx(d[0]);})
    .attr("y",function(d){return fy(d.data.name);})
    .attr("width",function(d){return fx(d[1])-fx(d[0]);})
    .attr("height",fy.bandwidth())
    .attr("fill",stackColor[layer.key]);
});
svg.append("rect").attr("x",238.5).attr("y",2489).attr("width",527.5).attr("height",984.5)
  .attr("fill","none").attr("stroke","#333").attr("stroke-width",3);
var fax = svg.append("g").attr("transform","translate(0,3473.5)")
  .call(d3.axisBottom(fx).tickValues([0,.25,.5,.75,1]).tickFormat(d3.format(".2f")).tickSize(6).tickPadding(4));
var fay = svg.append("g").attr("transform","translate(238.5,0)").call(d3.axisLeft(fy).tickSize(7).tickPadding(7));
[fax,fay].forEach(function(a){
  a.select("path").attr("stroke","none");
  a.selectAll("line").attr("stroke","#333").attr("stroke-width",3);
  a.selectAll("text").attr("font-size",23).attr("fill","#4D4D4D").attr("font-family","Liberation Sans");
});
label("proportion",502,3527,28);
label("Patient",810,2838,27.7,{anchor:"start"});
osNames.forEach(function(n,i){
  var yy = 2888.7+i*45.3;
  svg.append("rect").attr("x",811).attr("y",yy-20.5).attr("width",41).attr("height",41).attr("fill",osColors[i]);
  label(n,868.6,yy,22,{anchor:"start"});
});
</script>
</body>
</html>
